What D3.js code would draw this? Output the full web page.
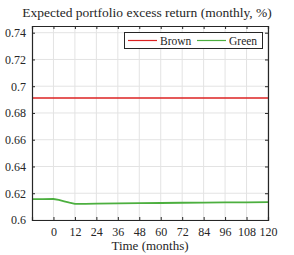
<!DOCTYPE html>
<html><head><meta charset="utf-8">
<script src="https://cdn.jsdelivr.net/npm/d3@7"></script>
<style>body{margin:0;background:#fff}svg{display:block}text{font-family:"Liberation Serif","Times New Roman",serif;fill:#262626}</style>
</head><body><svg id="c" width="294" height="255"></svg>
<script>
const title = "Expected portfolio excess return (monthly, %)";
const xLabel = "Time (months)";
const xTicks = [0,12,24,36,48,60,72,84,96,108,120];
const yTicks = [0.6,0.62,0.64,0.66,0.68,0.7,0.72,0.74];
const seriesNames = ["Brown","Green"];
const brownX = [-12, 120];
const brownY = [0.6912, 0.6912];
const greenX = [-12,-6,0,3,6,9,12,18,24,36,48,60,72,84,96,108,120];
const greenY = [0.6156,0.6156,0.6157,0.6150,0.6140,0.6130,0.6121,0.6121,0.6122,0.6124,0.6126,0.6127,0.6129,0.6130,0.6131,0.6132,0.6133];
const colors = ["#dd2222","#4caf3f"];

const W=294,H=255,m={l:32,r:26,t:26,b:35};
const svg=d3.select("#c");
const x=d3.scaleLinear().domain([-12,120]).range([m.l,W-m.r]);
const y=d3.scaleLinear().domain([0.6,0.745]).range([H-m.b,m.t]);
const g=svg.append("g");
g.selectAll(".gx").data(xTicks).join("line").attr("x1",d=>x(d)).attr("x2",d=>x(d)).attr("y1",y(0.6)).attr("y2",y(0.745)).attr("stroke","#e3e3e3").attr("stroke-width",1);
g.selectAll(".gy").data(yTicks).join("line").attr("y1",d=>y(d)).attr("y2",d=>y(d)).attr("x1",x(-12)).attr("x2",x(120)).attr("stroke","#e3e3e3").attr("stroke-width",1);
const line=d3.line().x(d=>x(d[0])).y(d=>y(d[1]));
svg.append("path").datum(brownX.map((v,i)=>[v,brownY[i]])).attr("d",line).attr("fill","none").attr("stroke",colors[0]).attr("stroke-width",1.5);
svg.append("path").datum(greenX.map((v,i)=>[v,greenY[i]])).attr("d",line).attr("fill","none").attr("stroke",colors[1]).attr("stroke-width",1.8);
const fmt=d=>String(+d.toFixed(2));
svg.append("g").attr("transform",`translate(0,${y(0.6)})`).call(d3.axisBottom(x).tickValues(xTicks).tickSize(-3).tickPadding(7).tickFormat(d3.format("d")));
svg.append("g").attr("transform",`translate(0,${y(0.745)})`).call(d3.axisTop(x).tickValues(xTicks).tickSize(-3).tickFormat(""));
svg.append("g").attr("transform",`translate(${x(-12)},0)`).call(d3.axisLeft(y).tickValues(yTicks).tickSize(-3).tickPadding(6).tickFormat(fmt));
svg.append("g").attr("transform",`translate(${x(120)},0)`).call(d3.axisRight(y).tickValues(yTicks).tickSize(-3).tickFormat(""));
svg.selectAll(".domain").attr("stroke","#262626").attr("stroke-width",1.2);
svg.selectAll(".tick line").attr("stroke","#262626");
svg.selectAll(".tick text").style("font-size","12px").attr("fill","#262626");
svg.append("text").attr("x",147).attr("y",17).attr("text-anchor","middle").style("font-size","13.5px").text(title);
svg.append("text").attr("x",(x(-12)+x(120))/2).attr("y",250).attr("text-anchor","middle").style("font-size","13px").text(xLabel);
const lg=svg.append("g");
lg.append("rect").attr("x",124.5).attr("y",32.5).attr("width",138).attr("height",16).attr("fill","#fff").attr("stroke","#262626").attr("stroke-width",1);
const items=[{n:seriesNames[0],c:colors[0],x0:128},{n:seriesNames[1],c:colors[1],x0:197}];
items.forEach(it=>{
  lg.append("line").attr("x1",it.x0).attr("x2",it.x0+29).attr("y1",40.5).attr("y2",40.5).attr("stroke",it.c).attr("stroke-width",1.2);
  lg.append("text").attr("x",it.x0+32).attr("y",44.5).style("font-size","11.5px").text(it.n);
});
</script></body></html>
